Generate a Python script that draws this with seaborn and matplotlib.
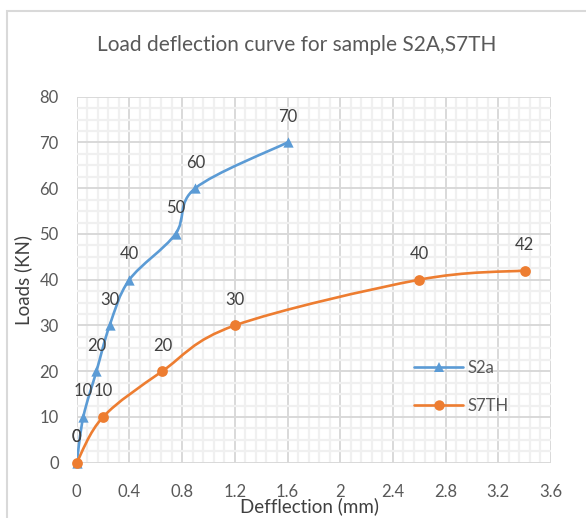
import numpy as np
import pandas as pd
import matplotlib
matplotlib.use("Agg")
import matplotlib.pyplot as plt
import seaborn as sns
from matplotlib.path import Path
from matplotlib.patches import PathPatch, Rectangle
from matplotlib.lines import Line2D
from matplotlib.ticker import MultipleLocator

# ---- data ----
s2a_x = [0, 0.05, 0.15, 0.25, 0.4, 0.75, 0.9, 1.6]
s2a_y = [0, 10, 20, 30, 40, 50, 60, 70]
s7th_x = [0, 0.2, 0.65, 1.2, 2.6, 3.4]
s7th_y = [0, 10, 20, 30, 40, 42]
series_names = ["S2a", "S7TH"]
x_ticks = [0, 0.4, 0.8, 1.2, 1.6, 2, 2.4, 2.8, 3.2, 3.6]
x_tick_labels = ["0", "0.4", "0.8", "1.2", "1.6", "2", "2.4", "2.8", "3.2", "3.6"]
y_ticks = [0, 10, 20, 30, 40, 50, 60, 70, 80]
title = "Load deflection curve for sample S2A,S7TH"
xlabel = "Defflection (mm)"
ylabel = "Loads (KN)"

BLUE = "#5B9BD5"
ORANGE = "#ED7D31"
TXT = "#595959"

sns.set_style("white")
plt.rcParams["font.family"] = ["Lato", "DejaVu Sans"]

W, H = 586, 518
fig = plt.figure(figsize=(W / 100, H / 100), dpi=100)
ax_l, ax_r, ax_t, ax_b = 76.7, 551.0, 96.7, 462.7
ax = fig.add_axes([ax_l / W, 1 - ax_b / H, (ax_r - ax_l) / W, (ax_b - ax_t) / H])

ax.set_xlim(0, 3.6)
ax.set_ylim(0, 80)

# gridlines (Excel style)
ax.xaxis.set_major_locator(MultipleLocator(0.4))
ax.xaxis.set_minor_locator(MultipleLocator(0.08))
ax.yaxis.set_major_locator(MultipleLocator(10))
ax.yaxis.set_minor_locator(MultipleLocator(2.5))
ax.grid(which="minor", color="#f0f0f0", linewidth=1.6, zorder=0)
ax.grid(which="major", color="#d9d9d9", linewidth=1.4, zorder=0.5)
ax.set_axisbelow(True)
for s in ax.spines.values():
    s.set_visible(False)
ax.tick_params(which="both", length=0)
ax.set_xticks(x_ticks)
ax.set_xticklabels(x_tick_labels)
ax.set_yticks(y_ticks)
ax.tick_params(axis="x", pad=15, labelsize=12, labelcolor=TXT)
ax.tick_params(axis="y", pad=13, labelsize=12, labelcolor=TXT)


def smooth_path(xs, ys):
    pts = np.column_stack([xs, ys]).astype(float)
    n = len(pts)
    verts = [pts[0]]
    codes = [Path.MOVETO]
    for i in range(n - 1):
        p0 = pts[i - 1] if i > 0 else pts[i]
        p1 = pts[i]
        p2 = pts[i + 1]
        p3 = pts[i + 2] if i + 2 < n else pts[i + 1]
        c1 = p1 + (p2 - p0) / 6.0
        c2 = p2 - (p3 - p1) / 6.0
        verts += [c1, c2, p2]
        codes += [Path.CURVE4] * 3
    return Path(verts, codes)


data = [
    (series_names[0], s2a_x, s2a_y, BLUE, "^"),
    (series_names[1], s7th_x, s7th_y, ORANGE, "o"),
]
handles = []
for name, xs, ys, col, mk in data:
    ax.add_patch(PathPatch(smooth_path(xs, ys), facecolor="none", edgecolor=col,
                           linewidth=1.9, zorder=3, capstyle="round", joinstyle="round"))
    df = pd.DataFrame({"x": xs, "y": ys})
    sns.scatterplot(data=df, x="x", y="y", ax=ax, marker=mk, color=col,
                    s=60 if mk == "o" else 55, linewidth=0, zorder=4, clip_on=False)
    for xv, yv in zip(xs, ys):
        ax.annotate(f"{yv}", (xv, yv), xytext=(0, 18.5), textcoords="offset points",
                    ha="center", va="center", fontsize=12, color="#404040", zorder=5)
    handles.append(Line2D([0], [0], color=col, linewidth=1.9, marker=mk, markersize=7.5,
                          markeredgewidth=0, label=name))

ax.set_xlabel("")
ax.set_ylabel("")
leg = ax.legend(handles=handles, loc="upper left", bbox_to_anchor=(0.712, 0.28),
                frameon=False, fontsize=12, handlelength=2.9, handletextpad=0.3,
                labelspacing=1.3, borderpad=0, borderaxespad=0)
for t in leg.get_texts():
    t.set_color(TXT)

fig.text(297 / W, 1 - 45 / H, title, ha="center", va="center", fontsize=15, color=TXT)
fig.text(310 / W, 1 - 506 / H, xlabel, ha="center", va="center", fontsize=13.5, color="#404040")
fig.text(23 / W, 1 - 280 / H, ylabel, ha="center", va="center", fontsize=13.5,
         color="#404040", rotation=90)

fig.patches.append(Rectangle((6.5 / W, -0.1), 1.2, 1 - 10.5 / H + 0.1, transform=fig.transFigure,
                             facecolor="none", edgecolor="#d9d9d9", linewidth=1.5, zorder=-1))

fig.savefig("out.png", dpi=100)
